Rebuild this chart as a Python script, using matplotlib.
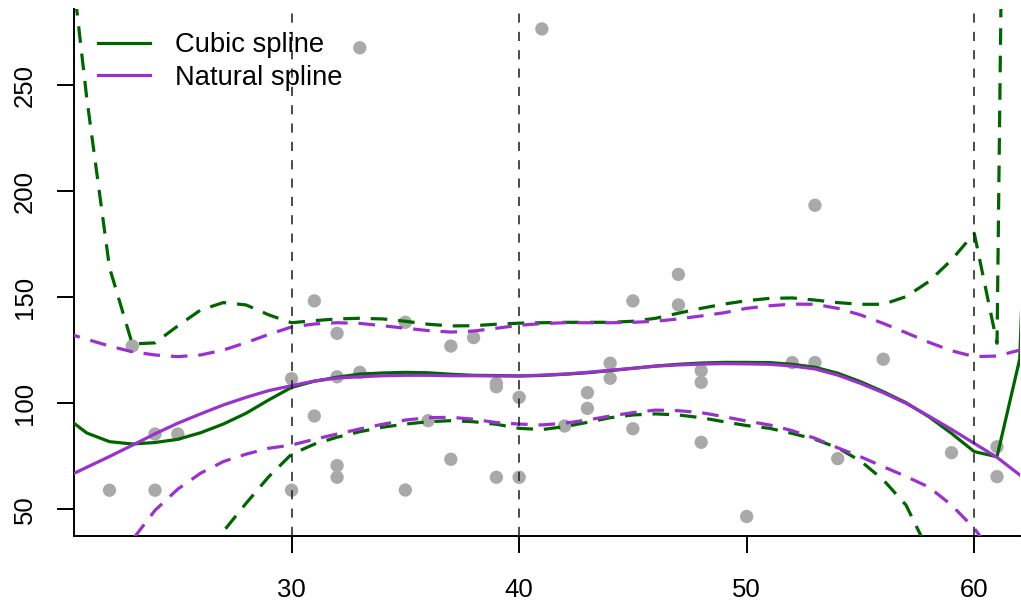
import matplotlib
matplotlib.use('Agg')
import matplotlib.pyplot as plt
import numpy as np

plt.rcParams['font.family'] = ['Liberation Sans', 'DejaVu Sans']

# observed points
age = [22, 23, 24, 24, 25, 30, 30, 31, 31, 32, 32, 32, 32, 33, 33, 35, 35, 36,
       37, 37, 38, 39, 39, 39, 40, 40, 41, 42, 43, 43, 44, 44, 45, 45, 47, 47,
       48, 48, 48, 50, 52, 53, 53, 54, 56, 59, 61, 61]
value = [59, 127, 59, 85.5, 85.5, 111.6, 59, 148.3, 94, 133, 112.5, 70.6, 65.1,
         114.6, 267.7, 138.2, 59.1, 91.8, 127, 73.6, 131, 109.4, 107.8, 65.1,
         102.8, 65.1, 276.6, 89.3, 105, 97.6, 118.9, 111.8, 148.3, 88, 146.4,
         160.8, 115.4, 109.9, 81.6, 46.6, 119.2, 193.4, 119.2, 73.9, 120.8,
         76.7, 79.5, 65.4]

knots = [30, 40, 60]

# prediction grid and fitted curves (+/- 2 se bands)
grid = list(range(20, 64))
cubic_fit = [94.2, 86.0, 81.9, 80.8, 81.5, 83.0, 86.1, 90.2, 95.3, 101.6,
             107.5, 110.4, 112.3, 113.8, 114.3, 114.6, 114.4, 113.7, 113.2, 113.1,
             112.9, 113.1, 113.7, 114.4, 115.4, 116.5, 117.6, 118.4, 119.0, 119.3,
             119.3, 119.2, 118.4, 117.0, 114.2, 110.2, 105.5, 100.3, 93.7, 85.8,
             77.2, 74.8, 121, 420]
cubic_upper = [339, 244, 164, 128, 128.5, 136.5, 144, 147.5, 146.4, 141.7,
               138, 139, 139.8, 140.1, 139.8, 138.7, 137.3, 136.5, 136.6, 137.3,
               137.8, 138, 138.2, 138.2, 138.2, 138.7, 140.1, 142.5, 144.8, 146.8,
               148.4, 149.5, 149.7, 148.7, 147.5, 146.7, 146.7, 150.3, 157.4, 167.6,
               180.2, 128.3, 1050, 3000]
cubic_lower = [-151, -72, 0, 33, 30, 29, 28, 39.5, 52.8, 65.4,
               76.0, 80.7, 84.0, 86.6, 88.7, 90.2, 91.3, 91.8, 91.3, 90.1,
               88.2, 87.6, 89.0, 91.0, 93.2, 94.5, 95.0, 94.5, 93.2, 91.3,
               89.5, 88.2, 85.8, 83.0, 79.0, 72.8, 63.9, 52.0, 30, 4,
               -26, 21, -808, -2160]
natural_fit = [64.7, 69.8, 74.9, 80.2, 85.6, 90.6, 95.0, 99.2, 102.8, 106.0,
               108.3, 110.5, 111.9, 112.5, 113.0, 113.2, 113.2, 113.0, 113.0, 112.9,
               112.9, 113.3, 113.8, 114.6, 115.6, 116.5, 117.5, 118.1, 118.5, 118.7,
               118.6, 118.4, 117.6, 116.2, 113.3, 109.4, 105.0, 100.0, 94.0, 87.7,
               81.1, 74.5, 66.2, 57.9]
natural_upper = [133.5, 130.2, 127.0, 124.3, 122.8, 122.0, 122.8, 125.1, 128.6, 132.5,
                 136.0, 137.4, 138.0, 137.7, 136.6, 135.4, 134.3, 133.6, 134.1, 135.4,
                 136.8, 137.6, 138.0, 138.0, 138.0, 138.2, 138.7, 139.8, 141.2, 142.7,
                 144.8, 146.0, 146.8, 146.7, 144.8, 141.7, 137.7, 133.3, 128.8, 124.8,
                 122.0, 122.3, 125.1, 128.5]
natural_lower = [-3.5, 10, 23, 35.5, 49.5, 59.5, 67.0, 72.5, 76.0, 78.8,
                 80.3, 83.0, 85.5, 87.9, 90.1, 92.1, 93.2, 93.4, 92.5, 90.9,
                 90.2, 89.8, 90.6, 92.1, 94.0, 95.6, 96.8, 96.5, 95.6, 93.7,
                 91.6, 89.8, 87.1, 83.5, 79.0, 74.8, 70.1, 65.5, 60.5, 52.0,
                 41.0, 26.7, 7.3, -12]

green = '#006400'
purple = '#9932CC'

fig = plt.figure(figsize=(10.21, 6.0), dpi=100)
ax = fig.add_axes([74 / 1021, 64 / 600, 946 / 1021, 527 / 600])

ax.scatter(age, value, s=92, color='#A9A9A9', edgecolors='none', zorder=1)

lw = 2.3
dash = (5.2, 3.4)
ax.plot(grid, cubic_fit, color=green, lw=lw, zorder=3, label='Cubic spline')
ax.plot(grid, cubic_upper, color=green, lw=lw, dashes=dash, zorder=3)
ax.plot(grid, cubic_lower, color=green, lw=lw, dashes=dash, zorder=3)
ax.plot(grid, natural_fit, color=purple, lw=lw, zorder=3, label='Natural spline')
ax.plot(grid, natural_upper, color=purple, lw=lw, dashes=dash, zorder=3)
ax.plot(grid, natural_lower, color=purple, lw=lw, dashes=dash, zorder=3)

for k in knots:
    ax.axvline(k, color='#1a1a1a', lw=1.1, dashes=(6, 6), zorder=4)

ax.set_xlim(20.44, 62.01)
ax.set_ylim(37.4, 286)

for side in ['top', 'right']:
    ax.spines[side].set_visible(False)
for side in ['left', 'bottom']:
    ax.spines[side].set_linewidth(1.4)

ax.set_xticks([30, 40, 50, 60])
ax.set_yticks([50, 100, 150, 200, 250])
ax.tick_params(axis='both', length=12, width=1.4, labelsize=18.5)
ax.tick_params(axis='x', pad=18)
ax.tick_params(axis='y', pad=15)
for lab in ax.get_yticklabels():
    lab.set_rotation(90)
    lab.set_va('center')

ax.legend(loc='upper left', bbox_to_anchor=(0.0254, 0.956), frameon=False,
          fontsize=19.7, handlelength=1.9, handletextpad=0.9,
          labelspacing=0.24, borderpad=0, borderaxespad=0)

fig.savefig('out.png', dpi=100)
